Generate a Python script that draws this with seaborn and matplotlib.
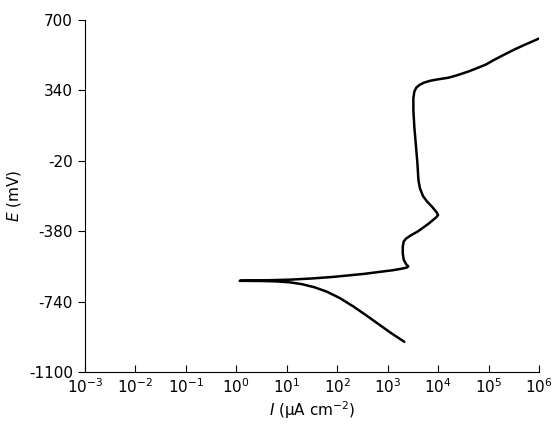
import numpy as np
import pandas as pd
import seaborn as sns
import matplotlib.pyplot as plt

# polarisation curve (log10 of current, potential in mV)
log_i = [3.33, 3.05, 2.79, 2.55, 2.32, 2.05, 1.80, 1.55, 1.30, 1.07, 0.80, 0.50, 0.07,
         0.50, 1.07, 1.50, 1.92, 2.20, 2.55, 2.85, 3.10, 3.30, 3.38, 3.41,
         3.37, 3.32, 3.30, 3.30, 3.32, 3.37, 3.45, 3.60, 3.80, 3.95, 4.00,
         3.97, 3.88, 3.78, 3.70, 3.64, 3.61, 3.59, 3.56, 3.53, 3.51, 3.51,
         3.53, 3.57, 3.63, 3.72, 3.85, 4.00, 4.20, 4.38, 4.60, 4.78, 4.95,
         5.10, 5.30, 5.50, 5.70, 5.88, 6.00]
pot_mv = [-946, -898, -850, -806, -765, -722, -690, -667, -651, -642, -637, -635, -634,
          -632, -628, -622, -614, -607, -598, -588, -580, -571, -566, -560,
          -550, -527, -495, -460, -432, -417, -403, -381, -344, -312, -298,
          -283, -255, -228, -200, -160, -118, -31, 60, 150, 240, 300,
          335, 355, 368, 380, 390, 397, 405, 418, 437, 455, 473,
          495, 522, 548, 572, 592, 606]

y_ticks = [700, 340, -20, -380, -740, -1100]
x_decades = list(range(-3, 7))

df = pd.DataFrame({"I": 10.0 ** np.array(log_i), "E": pot_mv})

sns.set_style("ticks", {"axes.edgecolor": "black", "xtick.color": "black",
                        "ytick.color": "black", "text.color": "black",
                        "axes.labelcolor": "black"})
plt.rcParams["font.family"] = ["DejaVu Sans"]

fig = plt.figure(figsize=(5.58, 4.37), dpi=100)
ax = fig.add_axes([0.152, 0.149, 0.814, 0.805])

sns.lineplot(data=df, x="I", y="E", sort=False, estimator=None,
             color="black", linewidth=1.8, ax=ax)

ax.set_xscale("log")
ax.set_xlim(1e-3, 1e6)
ax.set_ylim(-1100, 700)
ax.set_xticks([10.0 ** d for d in x_decades])
ax.set_xticklabels([f"$10^{{{d}}}$" for d in x_decades])
ax.xaxis.set_minor_locator(plt.NullLocator())
ax.set_yticks(y_ticks)
ax.set_yticklabels([str(v) for v in y_ticks])

ax.tick_params(axis="x", direction="in", length=5, labelsize=11, pad=4)
ax.tick_params(axis="y", direction="out", length=5, labelsize=11)

ax.set_xlabel(r"$I$ ($\mathrm{\mu}$A cm$^{-2}$)", fontsize=11, labelpad=2)
ax.set_ylabel(r"$E$ (mV)", fontsize=11, labelpad=4)

sns.despine(ax=ax)

fig.savefig("out.png", dpi=100)
